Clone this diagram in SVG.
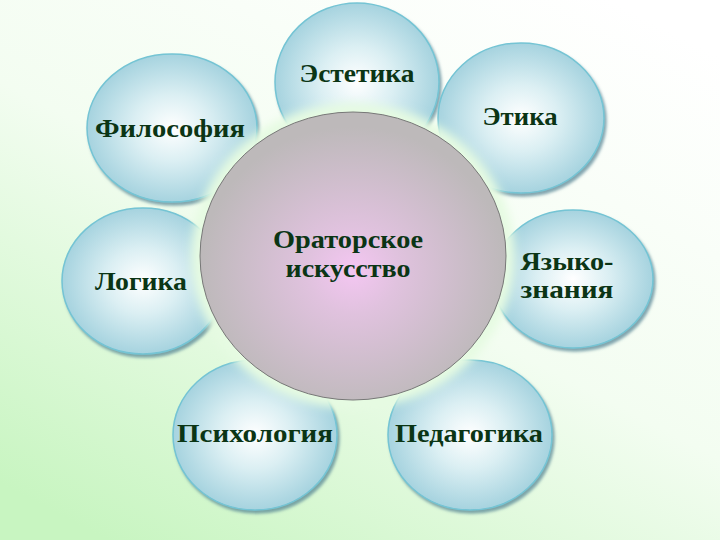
<svg xmlns="http://www.w3.org/2000/svg" width="720" height="540" viewBox="0 0 720 540">
  <defs>
    <linearGradient id="bg" x1="0.85" y1="0" x2="0.15" y2="1">
      <stop offset="0" stop-color="#ffffff"/>
      <stop offset="0.5" stop-color="#f3fdf1"/>
      <stop offset="1" stop-color="#c8f5c1"/>
    </linearGradient>
    <radialGradient id="petal" cx="0.5" cy="0.5" r="0.5">
      <stop offset="0" stop-color="#ffffff"/>
      <stop offset="0.45" stop-color="#dbeff3"/>
      <stop offset="1" stop-color="#a6d3df"/>
    </radialGradient>
    <radialGradient id="core" cx="0.5" cy="0.55" r="0.5">
      <stop offset="0" stop-color="#f4c6f2"/>
      <stop offset="0.3" stop-color="#e0c2de"/>
      <stop offset="1" stop-color="#bdb9ba"/>
    </radialGradient>
    <filter id="shadow" x="-20%" y="-20%" width="140%" height="140%">
      <feGaussianBlur in="SourceAlpha" stdDeviation="1.5"/>
      <feOffset dx="2" dy="3" result="o"/>
      <feFlood flood-color="#4f7f90" flood-opacity="0.7"/>
      <feComposite in2="o" operator="in"/>
      <feMerge><feMergeNode/><feMergeNode in="SourceGraphic"/></feMerge>
    </filter>
    <filter id="glow" x="-20%" y="-20%" width="140%" height="140%">
      <feGaussianBlur stdDeviation="5"/>
    </filter>
  </defs>
  <style>
    .petal { fill: url(#petal); stroke: #74c4d4; stroke-width: 1.5; filter: url(#shadow); }
    .core { fill: url(#core); stroke: #777777; stroke-width: 1; }
    .label { font-family: "Liberation Serif", "DejaVu Serif", serif; font-weight: bold; font-size: 25px; fill: #0b3515; text-anchor: middle; }
    .main { font-size: 26px; }
  </style>
  <rect x="0" y="0" width="720" height="540" fill="url(#bg)"/>

  <g id="node-estetika">
    <ellipse class="petal" cx="357" cy="82" rx="82" ry="79"/>
    <text class="label" x="357" y="82" textLength="115" lengthAdjust="spacingAndGlyphs">Эстетика</text>
  </g>
  <g id="node-filosofia">
    <ellipse class="petal" cx="172" cy="128" rx="85" ry="74"/>
    <text class="label" x="170" y="137" textLength="150" lengthAdjust="spacingAndGlyphs">Философия</text>
  </g>
  <g id="node-etika">
    <ellipse class="petal" cx="521" cy="118" rx="83" ry="75"/>
    <text class="label" x="520" y="125" textLength="75" lengthAdjust="spacingAndGlyphs">Этика</text>
  </g>
  <g id="node-logika">
    <ellipse class="petal" cx="143" cy="281" rx="81" ry="73"/>
    <text class="label" x="141" y="290" textLength="92" lengthAdjust="spacingAndGlyphs">Логика</text>
  </g>
  <g id="node-yazykoznania">
    <ellipse class="petal" cx="573" cy="279" rx="80" ry="69"/>
    <text class="label" x="567" y="270" textLength="93" lengthAdjust="spacingAndGlyphs">Языко-</text>
    <text class="label" x="567" y="298" textLength="93" lengthAdjust="spacingAndGlyphs">знания</text>
  </g>
  <g id="node-psihologia">
    <ellipse class="petal" cx="255" cy="435" rx="82" ry="75"/>
    <text class="label" x="255" y="442" textLength="156" lengthAdjust="spacingAndGlyphs">Психология</text>
  </g>
  <g id="node-pedagogika">
    <ellipse class="petal" cx="470" cy="435" rx="82" ry="75"/>
    <text class="label" x="469" y="442" textLength="148" lengthAdjust="spacingAndGlyphs">Педагогика</text>
  </g>

  <g id="node-oratorskoe">
    <ellipse cx="353" cy="256" rx="162" ry="153" fill="#e6fbe2" filter="url(#glow)"/>
    <ellipse class="core" cx="353" cy="256" rx="153" ry="144"/>
    <text class="label main" x="348" y="248" textLength="150" lengthAdjust="spacingAndGlyphs">Ораторское</text>
    <text class="label main" x="348" y="277" textLength="125" lengthAdjust="spacingAndGlyphs">искусство</text>
  </g>

  <g id="connectors"/>
</svg>
